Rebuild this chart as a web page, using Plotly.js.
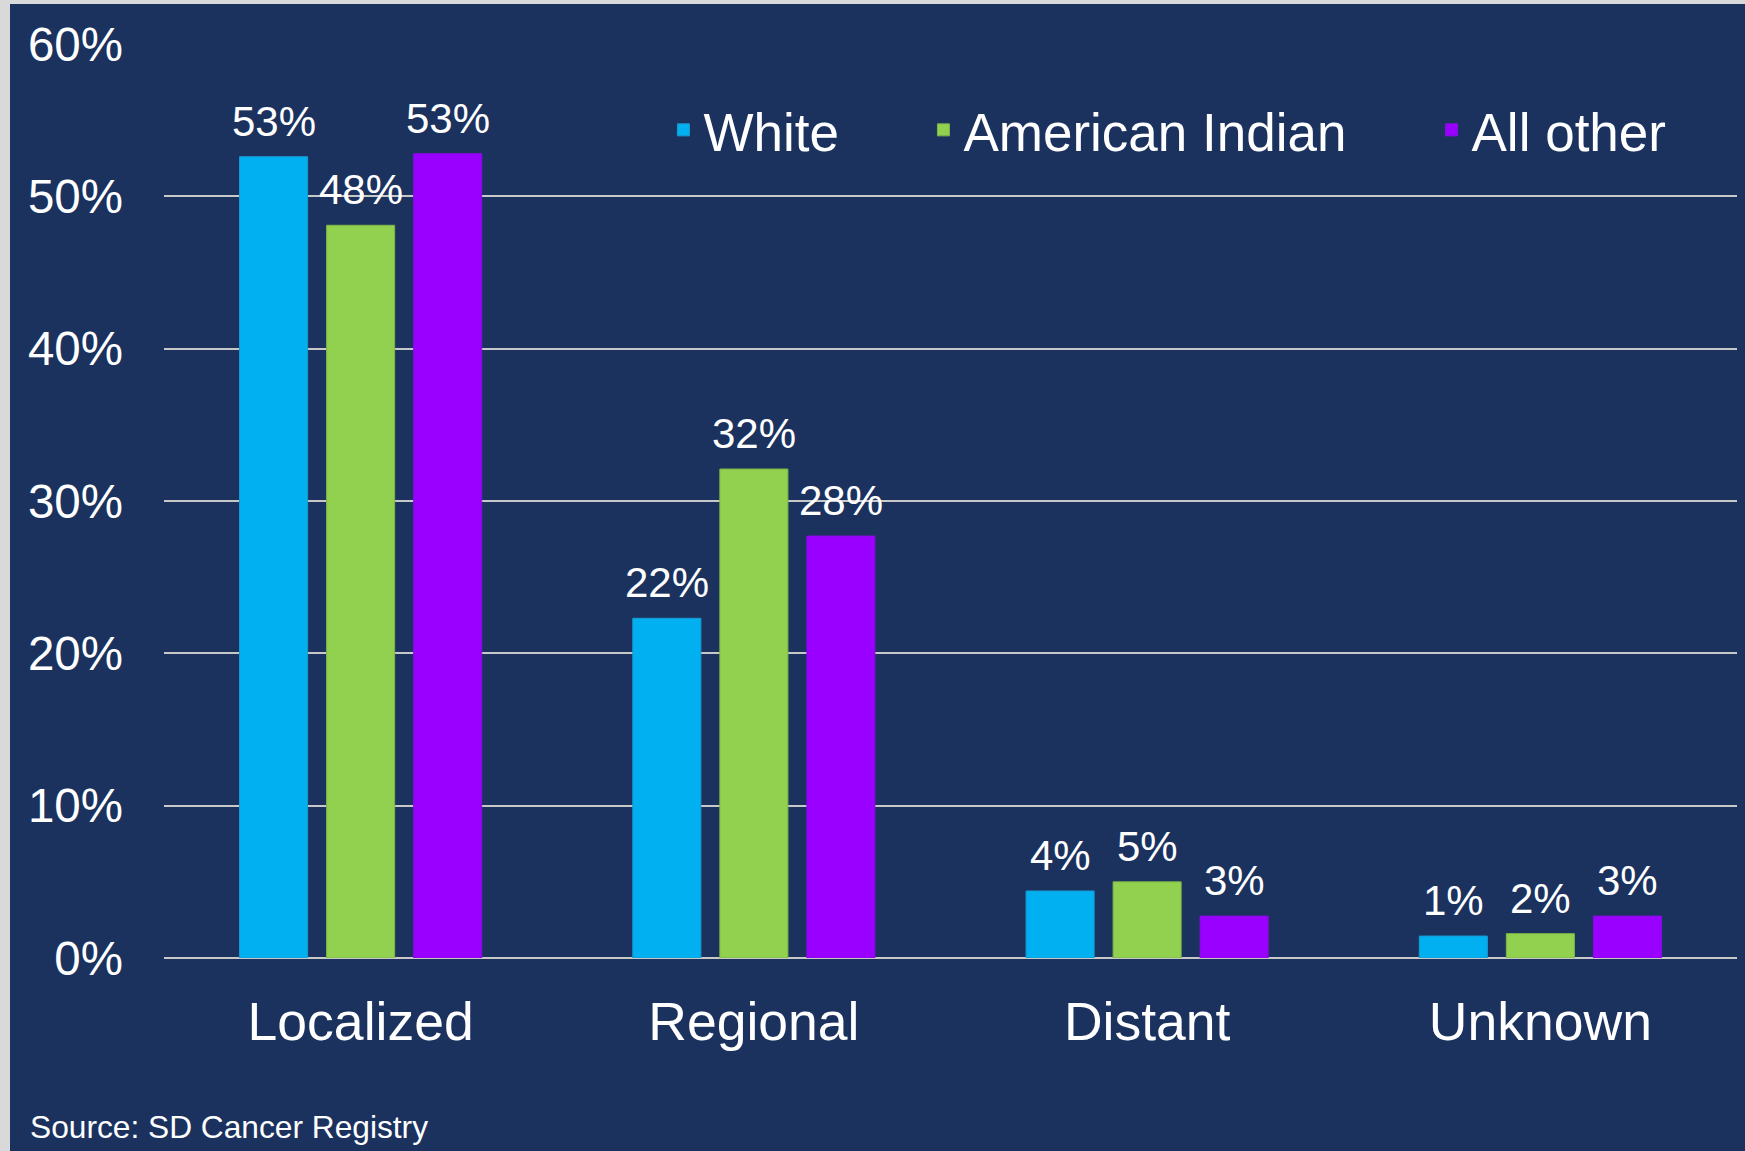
<!DOCTYPE html>
<html>
<head>
<meta charset="utf-8">
<script src="https://cdn.plot.ly/plotly-3.0.1.min.js"></script>
<style>
  html, body { margin: 0; padding: 0; background: #D9D9D9; width: 1745px; height: 1151px; overflow: hidden; }
  #chart { position: absolute; left: 10px; top: 4px; width: 1735px; height: 1147px; }
</style>
</head>
<body>
<div id="chart"></div>
<script>
const categories = ["Localized", "Regional", "Distant", "Unknown"];
const seriesNames = ["White", "American Indian", "All other"];
const whiteValues = [0.526, 0.223, 0.044, 0.0144];
const americanIndianValues = [0.481, 0.321, 0.050, 0.016];
const allOtherValues = [0.528, 0.277, 0.0275, 0.0275];
const seriesColors = ["#00B0F0", "#92D050", "#9900FF"];
const seriesEdgeColors = ["#1C9AD0", "#7DB545", "#8A0AE6"];
const yTickValues = [0, 0.1, 0.2, 0.3, 0.4, 0.5, 0.6];
const sourceText = "Source: SD Cancer Registry";

const FONT = "Liberation Sans, Arial, sans-serif";
const allValues = [whiteValues, americanIndianValues, allOtherValues];
const legendIds = ["legend", "legend2", "legend3"];

const W = 1735, H = 1147;
const M = { l: 154, r: 8, t: 40, b: 193, pad: 0 };
const BARGAP = 0.336, BARGROUPGAP = 0.218;
const plotWidth = W - M.l - M.r;
const slotWidth = plotWidth / categories.length * (1 - BARGAP) / allValues.length;

const traces = allValues.map((vals, i) => ({
  type: "bar",
  name: seriesNames[i],
  x: categories,
  y: vals,
  legend: legendIds[i],
  marker: { color: seriesColors[i], line: { width: 1, color: seriesEdgeColors[i] } },
  hoverinfo: "skip"
}));

// value labels placed above each bar through the axes
const labelAnnotations = [];
allValues.forEach((vals, i) => {
  vals.forEach((v, j) => {
    labelAnnotations.push({
      xref: "x", yref: "y",
      x: categories[j], y: v,
      xshift: (i - (allValues.length - 1) / 2) * slotWidth,
      yshift: 10,
      xanchor: "center", yanchor: "bottom",
      text: Math.round(v * 100) + "%",
      showarrow: false,
      font: { family: FONT, size: 42, color: "#FFFFFF" }
    });
  });
});

const legendBase = {
  orientation: "h",
  yanchor: "middle",
  y: 0.906,
  xanchor: "left",
  bgcolor: "rgba(0,0,0,0)",
  borderwidth: 0,
  font: { family: FONT, size: 53, color: "#FFFFFF" }
};

const layout = {
  width: W,
  height: H,
  paper_bgcolor: "#1B325F",
  plot_bgcolor: "#1B325F",
  margin: M,
  barmode: "group",
  bargap: BARGAP,
  bargroupgap: BARGROUPGAP,
  showlegend: true,
  legend: Object.assign({}, legendBase, { x: 0.3175 }),
  legend2: Object.assign({}, legendBase, { x: 0.4828 }),
  legend3: Object.assign({}, legendBase, { x: 0.8058 }),
  xaxis: {
    type: "category",
    showgrid: false,
    showline: false,
    zeroline: false,
    ticks: "",
    ticklabelstandoff: 27,
    tickfont: { family: FONT, size: 53.5, color: "#FFFFFF" }
  },
  yaxis: {
    range: [0, 0.6],
    tickvals: yTickValues,
    tickformat: ".0%",
    showgrid: true,
    gridcolor: "#C8C8C8",
    gridwidth: 2,
    zeroline: true,
    zerolinecolor: "#C8C8C8",
    zerolinewidth: 2,
    showline: false,
    ticks: "",
    ticklabelstandoff: 40,
    tickfont: { family: FONT, size: 47.5, color: "#FFFFFF" }
  },
  annotations: labelAnnotations.concat([{
    text: sourceText,
    xref: "paper", yref: "paper",
    x: -0.0866, y: -0.185,
    xanchor: "left", yanchor: "middle",
    showarrow: false,
    font: { family: FONT, size: 31.7, color: "#FFFFFF" }
  }])
};

Plotly.newPlot("chart", traces, layout, { displayModeBar: false, staticPlot: true });
</script>
</body>
</html>
